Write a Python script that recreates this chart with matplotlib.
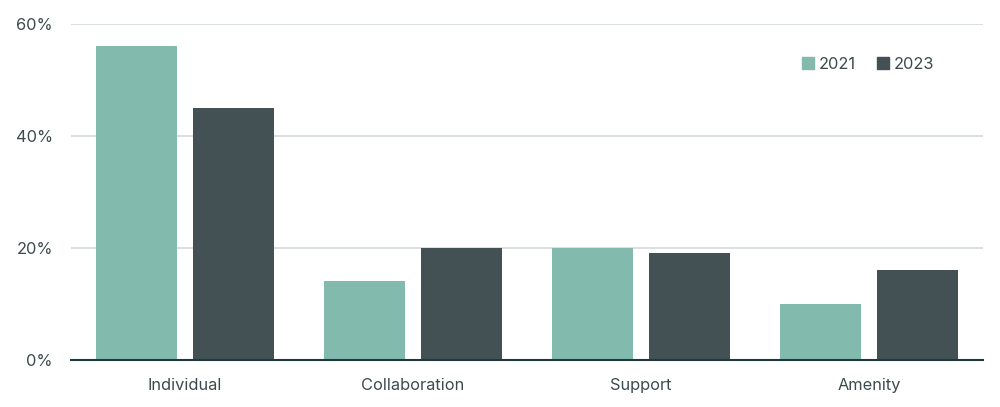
import matplotlib
matplotlib.use("Agg")
import matplotlib.pyplot as plt
import numpy as np
from matplotlib.lines import Line2D

categories = ["Individual", "Collaboration", "Support", "Amenity"]
series_names = ["2021", "2023"]
values_2021 = [56, 14, 20, 10]
values_2023 = [45, 20, 19, 16]
yticks = [0, 20, 40, 60]
ytick_labels = ["0%", "20%", "40%", "60%"]

c21 = "#82BBAD"
c23 = "#435155"
txt = "#3D4A4C"

plt.rcParams['font.family'] = ['Inter', 'DejaVu Sans']

fig = plt.figure(figsize=(10, 4.07), dpi=100)
ax = fig.add_axes([0.071, 0.1167, 0.912, 0.8243])

x = np.arange(len(categories))
w = 0.355
off = 0.213
ax.bar(x - off, values_2021, width=w, color=c21, zorder=3)
ax.bar(x + off, values_2023, width=w, color=c23, zorder=3)

ax.set_xlim(-0.5, len(categories) - 0.5)
ax.set_ylim(0, 60)
ax.set_yticks(yticks)
ax.set_yticklabels(ytick_labels)
ax.set_xticks(x)
ax.set_xticklabels(categories)
ax.grid(axis='y', color="#D3DADB", linewidth=1.2, zorder=0)
for s in ["top", "right", "left"]:
    ax.spines[s].set_visible(False)
ax.spines["bottom"].set_color("#1E3A3C")
ax.spines["bottom"].set_linewidth(1.5)
ax.spines["bottom"].set_zorder(4)
ax.tick_params(axis='both', length=0, colors=txt, labelsize=11.8)
ax.tick_params(axis='x', pad=13)
ax.tick_params(axis='y', pad=13)

handles = [Line2D([], [], marker='s', linestyle='none', markersize=8, color=c21),
           Line2D([], [], marker='s', linestyle='none', markersize=8, color=c23)]
leg = ax.legend(handles, series_names, loc='upper right', bbox_to_anchor=(0.963, 0.945),
                ncol=2, frameon=False, fontsize=11.8, handlelength=0.6,
                handletextpad=0.35, columnspacing=1.4, labelcolor=txt)

fig.savefig("out.png", dpi=100)
